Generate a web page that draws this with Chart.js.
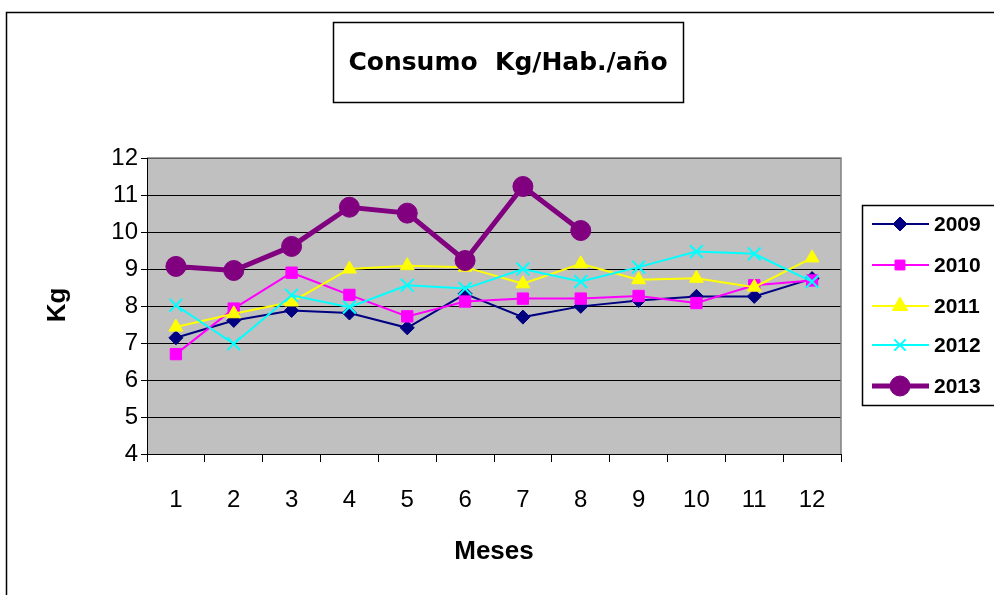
<!DOCTYPE html>
<html>
<head>
<meta charset="utf-8">
<script src="https://cdn.jsdelivr.net/npm/chart.js@4.4.1/dist/chart.umd.min.js"></script>
<style>
  html, body { margin: 0; padding: 0; background: #fff; }
  #wrap { width: 994px; height: 595px; position: relative; }
</style>
</head>
<body>
<div id="wrap"><canvas id="consumoChart"></canvas></div>
<script>
// datos
const meses = ['1', '2', '3', '4', '5', '6', '7', '8', '9', '10', '11', '12'];
const anios = ['2009', '2010', '2011', '2012', '2013'];
const v2009 = [7.14, 7.61, 7.88, 7.81, 7.41, 8.33, 7.70, 7.99, 8.15, 8.26, 8.26, 8.74];
const v2010 = [6.70, 7.93, 8.90, 8.30, 7.72, 8.12, 8.20, 8.20, 8.27, 8.08, 8.56, 8.69];
const v2011 = [7.43, 7.79, 8.11, 9.00, 9.09, 9.05, 8.60, 9.14, 8.71, 8.75, 8.51, 9.30];
const v2012 = [8.02, 6.98, 8.29, 7.97, 8.56, 8.47, 9.00, 8.66, 9.05, 9.47, 9.41, 8.66];
const v2013 = [9.07, 8.96, 9.61, 10.67, 10.51, 9.23, 11.23, 10.04, null, null, null, null];
const yTicks = [4, 5, 6, 7, 8, 9, 10, 11, 12];

const series = [v2009, v2010, v2011, v2012, v2013];
const colores = ['#000080', '#FF00FF', '#FFFF00', '#00FFFF', '#800080'];
const marcas = ['rectRot', 'rect', 'triangle', 'crossRot', 'circle'];
const radios = [7, 8, 8, 9, 10];
const grosor = [2, 2, 2, 2, 5];

const datasets = series.map((vals, i) => ({
    label: anios[i],
    data: vals,
    borderColor: colores[i],
    backgroundColor: colores[i],
    borderWidth: grosor[i],
    pointStyle: marcas[i],
    pointRadius: radios[i],
    pointBorderWidth: i === 3 ? 2 : 1,
    pointBorderColor: colores[i],
    pointBackgroundColor: colores[i],
    tension: 0,
    spanGaps: false,
    order: 4 - i
}));

// fondo gris, marcos, titulo, leyenda y titulos de ejes
const decor = {
    id: 'decor',
    beforeDraw(chart) {
        const ctx = chart.ctx;
        const a = chart.chartArea;
        ctx.save();
        ctx.fillStyle = '#fff';
        ctx.fillRect(0, 0, chart.width, chart.height);
        ctx.strokeStyle = '#000';
        ctx.lineWidth = 1.5;
        ctx.strokeRect(6.5, 12.5, 1100, 700);
        ctx.fillStyle = '#C0C0C0';
        ctx.fillRect(a.left, a.top, a.right - a.left, a.bottom - a.top);
        ctx.restore();
    },
    afterDraw(chart) {
        const ctx = chart.ctx;
        const a = chart.chartArea;
        ctx.save();
        // borde del area
        ctx.strokeStyle = '#808080';
        ctx.lineWidth = 1.5;
        ctx.beginPath();
        ctx.moveTo(a.left, a.top);
        ctx.lineTo(a.right, a.top);
        ctx.lineTo(a.right, a.bottom);
        ctx.stroke();
        ctx.strokeStyle = '#000';
        ctx.lineWidth = 1;
        ctx.beginPath();
        ctx.moveTo(a.left + 0.5, a.top);
        ctx.lineTo(a.left + 0.5, a.bottom);
        ctx.moveTo(a.left, a.bottom + 0.5);
        ctx.lineTo(a.right, a.bottom + 0.5);
        ctx.stroke();

        // titulo
        ctx.fillStyle = '#fff';
        ctx.fillRect(333, 22, 350, 80);
        ctx.strokeStyle = '#000';
        ctx.lineWidth = 1.5;
        ctx.strokeRect(333.5, 22.5, 350, 80);
        ctx.fillStyle = '#000';
        ctx.font = 'bold 25px "DejaVu Sans"';
        ctx.textAlign = 'center';
        ctx.textBaseline = 'middle';
        ctx.fillText('Consumo  Kg/Hab./año', 508, 63);

        // titulos de ejes
        ctx.font = 'bold 26px "Liberation Sans"';
        ctx.fillText('Meses', 494, 552);
        ctx.save();
        ctx.translate(58, 305);
        ctx.rotate(-Math.PI / 2);
        ctx.fillText('Kg', 0, 0);
        ctx.restore();

        // leyenda
        ctx.fillStyle = '#fff';
        ctx.fillRect(862, 205, 140, 200);
        ctx.lineWidth = 1.5;
        ctx.strokeStyle = '#000';
        ctx.strokeRect(862.5, 205.5, 140, 200);
        const ys = [224, 265, 306, 345, 386];
        const legRadios = [7, 7, 9, 8, 10];
        chart.data.datasets.forEach((ds, i) => {
            const y = ys[i];
            ctx.strokeStyle = ds.borderColor;
            ctx.lineWidth = ds.borderWidth;
            ctx.beginPath();
            ctx.moveTo(872, y);
            ctx.lineTo(929, y);
            ctx.stroke();
            ctx.fillStyle = ds.backgroundColor;
            ctx.strokeStyle = ds.borderColor;
            ctx.lineWidth = ds.pointBorderWidth;
            Chart.helpers.drawPoint(ctx, {
                pointStyle: ds.pointStyle,
                radius: legRadios[i],
                borderWidth: ds.pointBorderWidth,
                rotation: 0
            }, 900, y);
            ctx.fillStyle = '#000';
            ctx.font = 'bold 21px "Liberation Sans"';
            ctx.textAlign = 'left';
            ctx.fillText(ds.label, 934, y + 1);
        });
        ctx.restore();
    }
};

const ctx = document.getElementById('consumoChart');
new Chart(ctx, {
    type: 'line',
    data: { labels: meses, datasets: datasets },
    plugins: [decor],
    options: {
        responsive: true,
        maintainAspectRatio: false,
        animation: false,
        devicePixelRatio: 1,
        layout: { padding: { left: 0, top: 158, right: 153, bottom: 0 } },
        plugins: {
            legend: { display: false },
            tooltip: { enabled: false },
            title: { display: false }
        },
        scales: {
            x: {
                offset: true,
                grid: {
                    offset: true,
                    drawOnChartArea: false,
                    drawTicks: true,
                    tickLength: 8,
                    color: '#000'
                },
                border: { display: false },
                ticks: {
                    color: '#000',
                    font: { family: 'Liberation Sans', size: 24 },
                    padding: 24,
                    maxRotation: 0
                },
                afterFit(scale) { scale.height = 141; }
            },
            y: {
                min: 4,
                max: 12,
                afterBuildTicks(scale) {
                    scale.ticks = yTicks.map(v => ({ value: v }));
                },
                grid: {
                    color: '#000',
                    lineWidth: 1,
                    drawTicks: true,
                    tickLength: 6
                },
                border: { display: false },
                ticks: {
                    color: '#000',
                    font: { family: 'Liberation Sans', size: 24 },
                    padding: 3
                },
                afterFit(scale) { scale.width = 147; }
            }
        }
    }
});
</script>
</body>
</html>
